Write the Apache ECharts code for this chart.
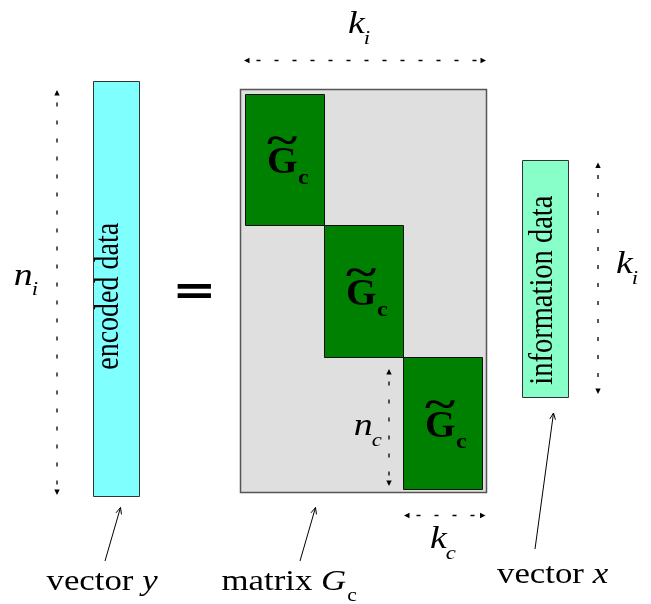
<!DOCTYPE html>
<html>
<head>
<meta charset="utf-8">
<script src="https://cdn.jsdelivr.net/npm/echarts@6/dist/echarts.min.js"></script>
<style>
html,body{margin:0;padding:0;background:#fff;}
#main{width:651px;height:604px;}
</style>
</head>
<body>
<div id="main"></div>
<script>
// ---------- diagram data (diagram units: x 0..651 rightwards, y 0..604 downwards) ----------
// matrix G_c : [x0, x1, y0, y1]
const matrixBox = [[240.5, 486.5, 89.5, 492.5]];
// block-diagonal sub-matrices  G~_c
const blockSymbol = ['G', 'c'];
const blockBoxes = [
  [245.5, 324.5, 94.5, 225.5],
  [324.5, 403.5, 225.5, 357.5],
  [403.5, 482.5, 357.5, 489.5]
];
// column vectors
const vectorLabels = ['encoded data', 'information data'];
const vectorBoxes = [
  [93.5, 139.5, 81.5, 496.5],
  [522.5, 568.5, 160.5, 397.5]
];
const vectorLabelCenter = [[106.5, 295.5], [539, 290]];
// equals sign between y and G_c
const equalsAt = [[194.7, 291]];
// dimension arrows  [xFrom, yFrom, xTo, yTo]
const dimSymbols = [['k', 'i'], ['n', 'i'], ['k', 'i'], ['n', 'c'], ['k', 'c']];
const dimArrows = [
  [244, 60.5, 486, 60.5],
  [57, 90, 57, 495],
  [598, 162.5, 598, 394],
  [389, 369, 389, 486],
  [404, 515.5, 485.5, 515.5]
];
const dimLabelAt = [[348, 33], [15, 284.5], [616, 273], [355, 435], [430, 548]];
// captions with pointer arrows
const captions = [['vector ', 'y', ''], ['matrix ', 'G', 'c'], ['vector ', 'x', '']];
const pointers = [
  [105, 561, 120.5, 507.5],
  [300, 561, 315.5, 507.5],
  [535, 549, 553.5, 413]
];
const captionAt = [[46.5, 590], [221.5, 590], [497, 583]];

// ---------- helpers ----------
const SERIF = '"Liberation Serif", "Times New Roman", serif';
const mctx = document.createElement('canvas').getContext('2d');
function measure(str, font) {
  mctx.font = font; mctx.textAlign = 'left'; mctx.textBaseline = 'middle';
  const m = mctx.measureText(str);
  const h = mctx.measureText('H');
  return { w: m.width, l: m.actualBoundingBoxLeft, r: m.actualBoundingBoxRight,
           a: m.actualBoundingBoxAscent, d: m.actualBoundingBoxDescent,
           base: h.actualBoundingBoxDescent };
}
function tstyle(str, font, fill) {
  return { text: str, x: 0, y: 0, font: font, fill: fill || '#000',
           align: 'left', verticalAlign: 'middle', textAlign: 'left', textVerticalAlign: 'middle' };
}
function textEl(str, font, o) {
  const m = measure(str, font);
  const sx = o.sx || 1, sy = o.sy || 1;
  let x, y;
  if (o.inkLeft != null) x = o.inkLeft + m.l * sx;
  else if (o.inkCx != null) x = o.inkCx - (m.r - m.l) / 2 * sx;
  else x = o.x;
  if (o.baseline != null) y = o.baseline - m.base * sy;
  else y = o.inkCy - (m.d - m.a) / 2 * sy;
  return { m: m, x: x, y: y, el: { type: 'text', x: x, y: y, scaleX: sx, scaleY: sy, style: tstyle(str, font) } };
}
function rotatedText(str, font, cx, cy, sAlong, sAcross) {
  const m = measure(str, font);
  const u = (m.r - m.l) / 2 * sAlong, v = (m.d - m.a) / 2 * sAcross;
  return { type: 'text', x: cx - v, y: cy + u, rotation: Math.PI / 2,
           scaleX: sAlong, scaleY: sAcross, style: tstyle(str, font) };
}
function boxOf(api) {
  const p0 = api.coord([api.value(0), api.value(2)]);
  const p1 = api.coord([api.value(1), api.value(3)]);
  return { x: Math.min(p0[0], p1[0]), y: Math.min(p0[1], p1[1]),
           width: Math.abs(p1[0] - p0[0]), height: Math.abs(p1[1] - p0[1]) };
}

// ---------- renderers ----------
function renderMatrix(params, api) {
  return { type: 'rect', shape: boxOf(api), style: { fill: '#dfdfdf', stroke: '#555', lineWidth: 1.5 } };
}
const vectorFills = ['#80ffff', '#88ffc8'];
function renderVector(params, api) {
  const i = params.dataIndex;
  const c = api.coord(vectorLabelCenter[i]);
  const fs = i === 0 ? 28 : 28.5;
  return { type: 'group', children: [
    { type: 'rect', shape: boxOf(api), style: { fill: vectorFills[i], stroke: '#333', lineWidth: 1 } },
    rotatedText(vectorLabels[i], fs + 'px ' + SERIF, c[0], c[1], 1, 1.2)
  ] };
}
function renderBlock(params, api) {
  const b = boxOf(api);
  const cx = b.x + b.width / 2, cy = b.y + b.height / 2;
  const gl = cx - 17, base = cy + 13;
  const G = textEl(blockSymbol[0], 'bold 37px ' + SERIF, { inkLeft: gl, baseline: base, sx: 1.06 });
  const gr = gl + (G.m.l + G.m.r) * 1.06;
  const T = textEl('~', 'bold 40px ' + SERIF, { inkCx: (gl + gr) / 2, inkCy: base - 33, sx: 1.45 });
  const C = textEl(blockSymbol[1], 'bold 22px ' + SERIF, { inkLeft: gr + 1.5, baseline: base + 11, sx: 1.1 });
  return { type: 'group', children: [
    { type: 'rect', shape: b, style: { fill: '#008000', stroke: '#111', lineWidth: 1 } },
    G.el, T.el, C.el
  ] };
}
function renderEquals(params, api) {
  const p = api.coord([api.value(0), api.value(1)]);
  return textEl('=', 'bold 40px "DejaVu Sans"', { inkCx: p[0], inkCy: p[1], sx: 1.33 }).el;
}
function renderDim(params, api) {
  const i = params.dataIndex;
  const a = api.coord([api.value(0), api.value(1)]);
  const b = api.coord([api.value(2), api.value(3)]);
  const dx = b[0] - a[0], dy = b[1] - a[1], L = Math.hypot(dx, dy), ux = dx / L, uy = dy / L;
  const head = 5.5, hw = 2.7;
  const tri = (t, sx, sy) => [[t[0], t[1]],
    [t[0] - sx * head - sy * hw, t[1] - sy * head + sx * hw],
    [t[0] - sx * head + sy * hw, t[1] - sy * head - sx * hw]];
  const pos = api.coord(dimLabelAt[i]);
  const sym = dimSymbols[i];
  const main = textEl(sym[0], 'italic 31px ' + SERIF, { inkLeft: pos[0], baseline: pos[1], sx: 1.22 });
  const sub = textEl(sym[1], 'italic 19px ' + SERIF, { x: main.x + main.m.w * 1.22 - 1, baseline: pos[1] + 10.5, sx: 1.2 });
  return { type: 'group', children: [
    { type: 'line', shape: { x1: a[0] + ux * head, y1: a[1] + uy * head, x2: b[0] - ux * head, y2: b[1] - uy * head },
      style: { stroke: '#000', lineWidth: 1.3, lineDash: [4, 14], lineDashOffset: -7 } },
    { type: 'polygon', shape: { points: tri(b, ux, uy) }, style: { fill: '#000' } },
    { type: 'polygon', shape: { points: tri(a, -ux, -uy) }, style: { fill: '#000' } },
    main.el, sub.el
  ] };
}
function renderPointer(params, api) {
  const i = params.dataIndex;
  const a = api.coord([api.value(0), api.value(1)]);
  const b = api.coord([api.value(2), api.value(3)]);
  const dx = b[0] - a[0], dy = b[1] - a[1], L = Math.hypot(dx, dy), ux = dx / L, uy = dy / L;
  const hl = 7, th = 0.42;
  const rot = (ang) => [b[0] - hl * (ux * Math.cos(ang) - uy * Math.sin(ang)),
                        b[1] - hl * (ux * Math.sin(ang) + uy * Math.cos(ang))];
  const parts = captions[i];
  const pos = api.coord(captionAt[i]);
  const reg = textEl(parts[0], '29px ' + SERIF, { inkLeft: pos[0], baseline: pos[1], sx: 1.2 });
  const it = textEl(parts[1], 'italic 29px ' + SERIF, { x: reg.x + reg.m.w * 1.2, baseline: pos[1], sx: 1.2 });
  const children = [
    { type: 'line', shape: { x1: a[0], y1: a[1], x2: b[0], y2: b[1] }, style: { stroke: '#000', lineWidth: 1 } },
    { type: 'polyline', shape: { points: [rot(th), b, rot(-th)] }, style: { stroke: '#000', lineWidth: 1, fill: null } },
    reg.el, it.el
  ];
  if (parts[2]) {
    const sub = textEl(parts[2], '18px ' + SERIF, { x: it.x + it.m.w * 1.2 + 1, baseline: pos[1] + 11, sx: 1.2 });
    children.push(sub.el);
  }
  return { type: 'group', children: children };
}

// ---------- chart ----------
const chart = echarts.init(document.getElementById('main'), null, { renderer: 'canvas' });
const common = { type: 'custom', coordinateSystem: 'cartesian2d', clip: false, silent: true, animation: false };
chart.setOption({
  animation: false,
  backgroundColor: '#ffffff',
  grid: { left: 0, right: 0, top: 0, bottom: 0, containLabel: false },
  xAxis: { type: 'value', min: 0, max: 651, show: false },
  yAxis: { type: 'value', min: 0, max: 604, inverse: true, show: false },
  series: [
    Object.assign({}, common, { name: 'matrix', z: 1, data: matrixBox, renderItem: renderMatrix }),
    Object.assign({}, common, { name: 'blocks', z: 2, data: blockBoxes, renderItem: renderBlock }),
    Object.assign({}, common, { name: 'vectors', z: 2, data: vectorBoxes, renderItem: renderVector }),
    Object.assign({}, common, { name: 'equals', z: 3, data: equalsAt, renderItem: renderEquals }),
    Object.assign({}, common, { name: 'dimensions', z: 4, data: dimArrows, renderItem: renderDim }),
    Object.assign({}, common, { name: 'captions', z: 4, data: pointers, renderItem: renderPointer })
  ]
});
</script>
</body>
</html>
